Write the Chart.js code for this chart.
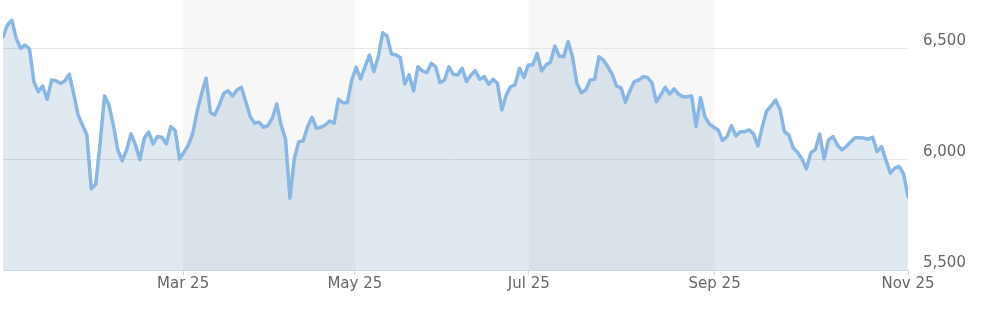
<!DOCTYPE html>
<html lang="en">
<head>
<meta charset="UTF-8">
<title>Index close</title>
<style>
  html, body { margin: 0; padding: 0; background: #FFFFFF; }
  .chart-box { position: relative; width: 989px; height: 312px; }
</style>
</head>
<body>
<div class="chart-box"><canvas id="chart"></canvas></div>
<script src="https://cdn.jsdelivr.net/npm/chart.js@4"></script>
<script>
// daily closes (one value per trading day)
const closes = [
  6552, 6605, 6627, 6545, 6500, 6515, 6497, 6350, 6304, 6330,
  6270, 6357, 6354, 6342, 6353, 6383, 6297, 6200, 6154, 6109,
  5866, 5887, 6072, 6285, 6245, 6154, 6042, 5992, 6042, 6114,
  6064, 5997, 6095, 6122, 6069, 6102, 6099, 6069, 6147, 6129,
  6000, 6032, 6064, 6117, 6218, 6297, 6365, 6210, 6200, 6245,
  6297, 6308, 6285, 6312, 6324, 6259, 6192, 6162, 6167, 6144,
  6151, 6185, 6249, 6154, 6090, 5824, 6004, 6079, 6082, 6147,
  6189, 6140, 6144, 6154, 6172, 6162, 6270, 6255, 6255, 6357,
  6414, 6362, 6417, 6470, 6395, 6462, 6570, 6555, 6474, 6470,
  6459, 6339, 6380, 6308, 6417, 6398, 6390, 6432, 6417, 6345,
  6357, 6417, 6383, 6380, 6410, 6350, 6380, 6399, 6360, 6372,
  6338, 6360, 6342, 6222, 6290, 6327, 6335, 6410, 6368, 6425,
  6425, 6477, 6398, 6425, 6437, 6510, 6465, 6462, 6530, 6462,
  6342, 6300, 6312, 6357, 6360, 6462, 6447, 6417, 6383, 6330,
  6322, 6257, 6308, 6350, 6357, 6372, 6368, 6345, 6259, 6290,
  6324, 6294, 6317, 6294, 6282, 6282, 6285, 6147, 6277, 6192,
  6159, 6144, 6132, 6084, 6102, 6151, 6105, 6124, 6124, 6132,
  6114, 6060, 6147, 6218, 6240, 6267, 6225, 6124, 6109, 6050,
  6030, 6000, 5956, 6030, 6042, 6113, 6001, 6087, 6102, 6064,
  6042, 6057, 6077, 6097, 6097, 6095, 6090, 6099, 6034, 6057,
  5997, 5937, 5960, 5967, 5934, 5831
];

// month ticks sit between trading days on the index axis
const tickLabels = ['Mar 25', 'May 25', 'Jul 25', 'Sep 25', 'Nov 25'];
const tickAt = [40.8, 79.7, 119.1, 161.2, 205];
const bands = [[40.8, 79.7], [119.1, 161.2]];
const yTicks = [5500, 6000, 6500];

const axisFont = { family: 'DejaVu Sans', size: 15 };

// shaded background for every other two-month block
const bandPlugin = {
    id: 'bands',
    beforeDraw(chart) {
        const { ctx, chartArea, scales } = chart;
        ctx.save();
        ctx.fillStyle = '#F7F7F7';
        bands.forEach(([a, b]) => {
            const x0 = scales.x.getPixelForValue(a);
            const x1 = scales.x.getPixelForValue(b);
            ctx.fillRect(x0, chartArea.top, x1 - x0, chartArea.bottom - chartArea.top);
        });
        ctx.restore();
    }
};

new Chart(document.getElementById('chart'), {
    type: 'line',
    data: {
        datasets: [{
            data: closes.map((v, i) => ({ x: i, y: v })),
            borderColor: '#88B7E5',
            borderWidth: 3.5,
            borderJoinStyle: 'round',
            borderCapStyle: 'round',
            backgroundColor: 'rgba(0, 70, 130, 0.12)',
            fill: 'start',
            pointRadius: 0,
            tension: 0
        }]
    },
    options: {
        responsive: true,
        maintainAspectRatio: false,
        animation: false,
        layout: { padding: { left: 3, top: 0, right: 0, bottom: 0 } },
        plugins: {
            legend: { display: false },
            tooltip: { enabled: false }
        },
        scales: {
            x: {
                type: 'linear',
                min: 0,
                max: closes.length - 1,
                afterBuildTicks: s => { s.ticks = tickAt.map(v => ({ value: v })); },
                afterFit: s => { s.height = 42; s.paddingLeft = 0; s.paddingRight = 0; },
                ticks: {
                    autoSkip: false,
                    maxRotation: 0,
                    padding: 0,
                    color: '#666666',
                    font: axisFont,
                    callback: (v, i) => tickLabels[i]
                },
                grid: { drawOnChartArea: false, tickLength: 5, color: '#CCD6EB' },
                border: { color: '#CCD6EB' }
            },
            y: {
                position: 'right',
                min: 5500,
                max: 6718,
                afterBuildTicks: s => { s.ticks = yTicks.map(v => ({ value: v })); },
                afterFit: s => { s.width = 81; s.paddingTop = 0; s.paddingBottom = 0; },
                ticks: {
                    padding: 15,
                    labelOffset: -7,
                    color: '#666666',
                    font: axisFont,
                    callback: v => v.toLocaleString('en-US')
                },
                grid: { color: '#E6E6E6', drawTicks: false, tickLength: 0 },
                border: { display: false }
            }
        }
    },
    plugins: [bandPlugin]
});
</script>
</body>
</html>
